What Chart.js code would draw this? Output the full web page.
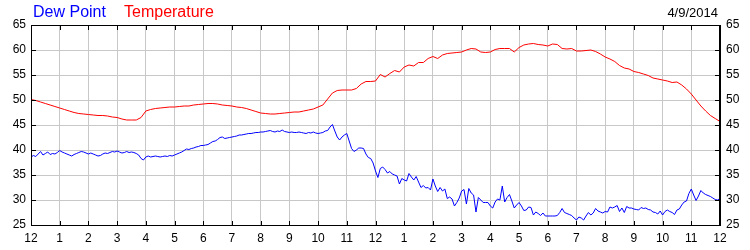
<!DOCTYPE html>
<html>
<head>
<meta charset="utf-8">
<script src="https://cdn.jsdelivr.net/npm/chart.js@4/dist/chart.umd.min.js"></script>
<style>
  html, body { margin: 0; padding: 0; background: #fff; }
  #wrap { position: relative; width: 750px; height: 250px; }
  canvas { position: absolute; left: 0; top: 0; }
  .t { position: absolute; font-family: "Liberation Sans", Arial, sans-serif; white-space: nowrap; line-height: 1; }
  #lgDew { left: 33px; top: 4px; font-size: 16px; color: #0000ff; }
  #lgTemp { left: 124px; top: 4px; font-size: 16px; color: #ff0000; }
  #date { right: 32px; top: 6px; font-size: 13px; color: #000; }
</style>
</head>
<body>
<div id="wrap">
  <canvas id="c" width="750" height="250"></canvas>
  <div class="t" id="lgDew">Dew Point</div>
  <div class="t" id="lgTemp">Temperature</div>
  <div class="t" id="date">4/9/2014</div>
</div>
<script>
// Temperature read every 10 minutes, dew point every 5 minutes, midnight to midnight
const TEMP_STEP_MINUTES = 10;
const DEW_STEP_MINUTES = 5;
const hourLabels = ['12','1','2','3','4','5','6','7','8','9','10','11','12','1','2','3','4','5','6','7','8','9','10','11','12'];
const yTicks = [25, 30, 35, 40, 45, 50, 55, 60, 65];

const temperature = [
  50.1, 49.9, 49.6, 49.3, 49.0, 48.7, 48.4, 48.1, 47.8, 47.5, 47.3, 47.2,
  47.1, 47.0, 46.9, 46.9, 46.8, 46.6, 46.5, 46.2, 46.0, 46.0, 46.0, 46.5,
  47.8, 48.1, 48.3, 48.4, 48.5, 48.6, 48.6, 48.7, 48.8, 48.8, 49.0, 49.1,
  49.2, 49.3, 49.3, 49.2, 49.0, 48.9, 48.8, 48.6, 48.5, 48.3, 48.0, 47.7,
  47.4, 47.3, 47.2, 47.2, 47.3, 47.4, 47.5, 47.6, 47.6, 47.8, 48.0, 48.2,
  48.6, 49.0, 50.2, 51.4, 51.9, 52.0, 52.0, 52.0, 52.3, 53.2, 53.7, 53.7,
  53.8, 55.1, 54.6, 55.3, 55.9, 55.6, 56.6, 57.0, 56.8, 57.5, 57.5, 58.3,
  58.7, 58.3, 59.0, 59.3, 59.4, 59.5, 59.6, 60.0, 60.3, 60.2, 59.6, 59.5,
  59.6, 60.1, 60.3, 60.3, 60.3, 59.6, 60.5, 61.0, 61.2, 61.3, 61.1, 61.0,
  60.8, 61.2, 61.1, 60.3, 60.2, 60.3, 59.8, 59.8, 59.9, 60.0, 59.7, 59.2,
  58.6, 58.2, 57.7, 56.9, 56.4, 56.2, 55.7, 55.5, 55.2, 54.9, 54.4, 54.2,
  54.0, 53.8, 53.5, 53.6, 53.0, 52.2, 51.2, 50.0, 48.8, 47.8, 46.9, 46.3,
  45.7
];

const dewPoint = [
  // 12am - 6am
  38.6, 38.9, 38.7, 39.2, 39.7, 39.0, 39.3, 39.6, 39.1, 39.3, 39.2, 39.5,
  39.9, 39.6, 39.4, 39.2, 39.0, 38.8, 39.1, 39.3, 39.5, 39.7, 39.6, 39.4,
  39.2, 39.4, 39.2, 39.0, 38.8, 38.9, 39.2, 39.4, 39.3, 39.5, 39.7, 39.6,
  39.8, 39.6, 39.4, 39.5, 39.7, 39.5, 39.6, 39.5, 39.3, 39.0, 38.3, 38.0,
  38.6, 38.8, 38.6, 38.7, 38.8, 38.7, 38.6, 38.7, 38.8, 38.7, 38.9, 38.8,
  39.0, 39.2, 39.4, 39.6, 39.9, 40.2, 40.1, 40.3, 40.4, 40.6, 40.7, 40.9,
  // 6am - 12pm
  40.9, 41.0, 41.1, 41.4, 41.7, 41.8, 42.1, 42.5, 42.6, 42.3, 42.4, 42.5,
  42.6, 42.7, 42.8, 43.0, 43.0, 43.1, 43.2, 43.3, 43.3, 43.4, 43.5, 43.5,
  43.6, 43.6, 43.7, 43.8, 43.9, 43.7, 43.6, 43.8, 43.7, 44.0, 43.7, 43.6,
  43.5, 43.6, 43.5, 43.5, 43.6, 43.5, 43.4, 43.3, 43.5, 43.4, 43.6, 43.4,
  43.3, 43.4, 43.5, 43.8, 43.9, 44.6, 45.1, 43.8, 42.6, 42.0, 42.6, 43.0,
  43.3, 41.8, 40.3, 39.7, 40.0, 40.4, 40.4, 40.3, 39.2, 38.5, 38.3, 37.4,
  // 12pm - 6pm
  35.8, 34.5, 36.3, 36.6, 36.1, 35.4, 35.7, 35.2, 35.0, 34.8, 33.2, 34.3,
  34.0, 33.8, 35.3, 34.6, 34.0, 34.7, 33.6, 32.5, 32.9, 32.4, 32.5, 32.0,
  34.2, 32.8, 31.7, 32.5, 31.8, 32.2, 30.3, 30.6, 30.2, 28.8, 29.5, 30.4,
  31.8, 32.1, 29.2, 32.3, 31.4, 31.0, 27.6, 30.5, 30.0, 29.5, 29.5, 29.5,
  28.8, 28.4, 29.6, 30.2, 30.0, 32.8, 29.6, 30.5, 31.1, 29.8, 28.4, 29.0,
  29.5, 28.8, 27.9, 28.0, 28.6, 28.5, 27.0, 27.6, 27.3, 26.9, 27.4, 26.8,
  // 6pm - 12am
  26.8, 26.8, 26.8, 26.8, 26.9, 27.5, 28.3, 27.5, 27.3, 27.1, 26.9, 26.4,
  26.0, 26.6, 26.4, 26.0, 26.8, 27.5, 27.0, 27.4, 28.3, 27.8, 27.6, 27.4,
  27.7, 27.6, 28.6, 28.4, 28.6, 28.9, 27.7, 28.4, 27.5, 28.7, 28.4, 28.4,
  28.2, 28.1, 28.0, 28.5, 28.3, 28.4, 28.1, 28.0, 27.6, 27.5, 27.2, 27.8,
  27.0, 27.7, 28.0, 27.7, 27.5, 27.1, 28.0, 28.2, 29.0, 29.6, 29.8, 31.3,
  32.2, 31.0, 29.9, 30.8, 31.9, 31.4, 31.1, 30.9, 30.7, 30.4, 30.1, 30.0,
  30.3
];

const toPoints = (arr, stepMin) => arr.map((v, i) => ({ x: i * stepMin / 60, y: v }));

const FONT = { family: '"Liberation Sans", Arial, sans-serif', size: 12 };

const framePlugin = {
  id: 'frame',
  afterDraw(chart) {
    const { ctx, chartArea: a } = chart;
    const xs = chart.scales.x, ys = chart.scales.y;
    const L = Math.round(a.left), R = Math.round(a.right), T = Math.round(a.top), B = Math.round(a.bottom);
    ctx.save();
    ctx.strokeStyle = '#000';
    ctx.lineWidth = 1;
    ctx.beginPath();
    ctx.moveTo(L, T + 0.5); ctx.lineTo(R, T + 0.5);
    ctx.moveTo(L, B + 0.5); ctx.lineTo(R, B + 0.5);
    ctx.moveTo(L + 0.5, T); ctx.lineTo(L + 0.5, B + 1);
    ctx.moveTo(R - 0.5, T); ctx.lineTo(R - 0.5, B + 1);
    for (let h = 0; h < hourLabels.length; h++) {
      const px = Math.round(xs.getPixelForValue(h)) + 0.5;
      ctx.moveTo(px, T); ctx.lineTo(px, T + 5);
      ctx.moveTo(px, B + 1); ctx.lineTo(px, B - 4);
    }
    for (const v of yTicks) {
      const py = Math.round(ys.getPixelForValue(v)) + 0.5;
      ctx.moveTo(L, py); ctx.lineTo(L + 5, py);
      ctx.moveTo(R, py); ctx.lineTo(R - 5, py);
    }
    ctx.stroke();
    ctx.restore();
  }
};

new Chart(document.getElementById('c'), {
  type: 'line',
  data: {
    datasets: [
      { label: 'Temperature', data: toPoints(temperature, TEMP_STEP_MINUTES), borderColor: '#ff0000',
        borderWidth: 1, pointRadius: 0, tension: 0, yAxisID: 'y' },
      { label: 'Dew Point', data: toPoints(dewPoint, DEW_STEP_MINUTES), borderColor: '#0000ff',
        borderWidth: 1, pointRadius: 0, tension: 0, yAxisID: 'y' }
    ]
  },
  options: {
    responsive: false,
    animation: false,
    events: [],
    layout: { padding: { top: 25, left: 0, right: 0, bottom: 0 } },
    plugins: { legend: { display: false }, tooltip: { enabled: false }, title: { display: false } },
    scales: {
      x: {
        type: 'linear', min: 0, max: 24,
        afterFit: s => { s.height = 25; },
        afterBuildTicks: s => { s.ticks = hourLabels.map((_, i) => ({ value: i })); },
        ticks: { callback: v => hourLabels[v], font: FONT, color: '#000', padding: 6,
                 maxRotation: 0, autoSkip: false },
        grid: { color: '#c8c8c8', drawTicks: false },
        border: { color: '#000' }
      },
      y: {
        position: 'left', min: 25, max: 65,
        afterFit: s => { s.width = 31; },
        afterBuildTicks: s => { s.ticks = yTicks.map(v => ({ value: v })); },
        ticks: { font: FONT, color: '#000', padding: 5 },
        grid: { color: '#c8c8c8', drawTicks: false },
        border: { color: '#000' }
      },
      y2: {
        position: 'right', min: 25, max: 65,
        afterFit: s => { s.width = 30; },
        afterBuildTicks: s => { s.ticks = yTicks.map(v => ({ value: v })); },
        ticks: { font: FONT, color: '#000', padding: 6 },
        grid: { drawOnChartArea: false, drawTicks: false },
        border: { color: '#000' }
      }
    }
  },
  plugins: [framePlugin]
});
</script>
</body>
</html>
